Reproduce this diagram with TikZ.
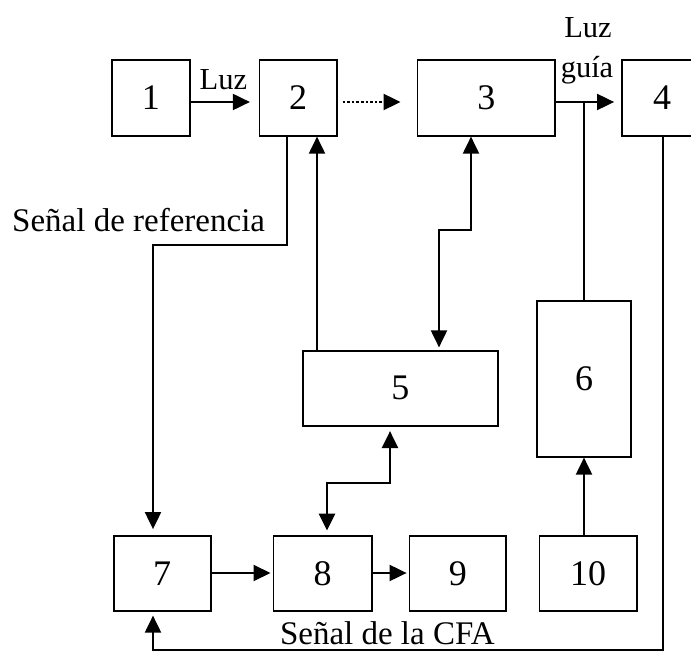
\documentclass[tikz,border=0pt]{standalone}
\usepackage{fontspec}
\setmainfont{Liberation Serif}
\usetikzlibrary{arrows.meta,calc}
\begin{document}
\begin{tikzpicture}[x=1pt,y=-1pt,
  box/.style={draw,line width=1.8pt,inner sep=0pt,font=\fontsize{36}{36}\selectfont},
  con/.style={line width=2pt},
  tip/.tip={Triangle[length=17pt,width=16pt]},
  arr/.style={con,-tip},
  lab/.style={inner sep=0pt,font=\fontsize{33}{33}\selectfont},
  slab/.style={inner sep=0pt,font=\fontsize{30.5}{30.5}\selectfont}]
\clip (0,0) rectangle (691,652);
% boxes
\node[box,minimum width=77.6pt,minimum height=75.7pt] (b1) at (150.9,97.85) {1};
\node[box,minimum width=77.3pt,minimum height=75.7pt] (b2) at (298.05,97.85) {2};
\node[box,minimum width=137.9pt,minimum height=75.7pt] (b3) at (486.35,97.85) {3};
\node[box,minimum width=80pt,minimum height=75.7pt] (b4) at (662,97.85) {4};
\node[box,minimum width=195.2pt,minimum height=74.7pt] (b5) at (400.4,388.35) {5};
\node[box,minimum width=94.2pt,minimum height=156pt] (b6) at (584,378.7) {6};
\node[box,minimum width=97.2pt,minimum height=74.7pt] (b7) at (162.2,573.35) {7};
\node[box,minimum width=98.4pt,minimum height=74.7pt] (b8) at (322.6,573.35) {8};
\node[box,minimum width=96.8pt,minimum height=74.7pt] (b9) at (457.9,573.35) {9};
\node[box,minimum width=97.2pt,minimum height=74.7pt] (b10) at (588.1,573.35) {10};
% labels
\node[lab,anchor=base west] (sr) at (12,232) {Señal de referencia};
\node[lab,anchor=base] (scfa) at (387.4,644) {Señal de la CFA};
\node[slab,anchor=base west] (luz1) at (199.5,90) {Luz};
\node[slab,anchor=base] (luz2) at (588,37.3) {Luz};
\node[slab,anchor=base] (guia) at (587,78) {guía};
% helper coordinates
\coordinate (ay) at (0,102);
\coordinate (by) at (0,573);
\coordinate (j6) at (584,102);
\coordinate (r1) at (287,245);
\coordinate (r2) at (153,245);
\coordinate (c5) at (317,0);
\coordinate (k1) at (471,230);
\coordinate (k2) at (439,230);
\coordinate (m1) at (390,483);
\coordinate (m2) at (327,483);
\coordinate (f1) at (663,650);
\coordinate (f2) at (153,650);
% top row
\draw[arr,shorten >=8.6pt] (b1.east|-ay) -- (b2.west|-ay);
\draw[con,line width=2.4pt,dash pattern=on 2.6pt off 2pt,-tip,shorten >=16pt] ($(b2.east|-ay)+(5,0)$) -- (b3.west|-ay);
\draw[arr,shorten >=7pt] (b3.east|-ay) -- (b4.west|-ay);
\draw[con] (j6) -- (b6.north-|j6);
% reference signal
\draw[arr,shorten >=6pt] (b2.south-|r1) -- (r1) -- (r2) -- (r2|-b7.north);
% 5 -> 2
\draw[arr] (b5.north-|c5) -- (b2.south-|c5);
% 3 <-> 5
\draw[con,tip-tip,shorten >=2.7pt] (b3.south-|k1) -- (k1) -- (k2) -- (k2|-b5.north);
% 5 <-> 8
\draw[con,line width=2.6pt,tip-tip,shorten <=4.5pt,shorten >=4.5pt] (b5.south-|m1) -- (m1) -- (m2) -- (m2|-b8.north);
% bottom row
\draw[arr,shorten >=2pt] (b7.east|-by) -- (b8.west|-by);
\draw[arr,shorten >=2pt] (b8.east|-by) -- (b9.west|-by);
\draw[arr] (j6|-b10.north) -- (j6|-b6.south);
% feedback from 4
\draw[arr,shorten >=4pt] (b4.south-|f1) -- (f1) -- (f2) -- (f2|-b7.south);
\end{tikzpicture}
\end{document}
